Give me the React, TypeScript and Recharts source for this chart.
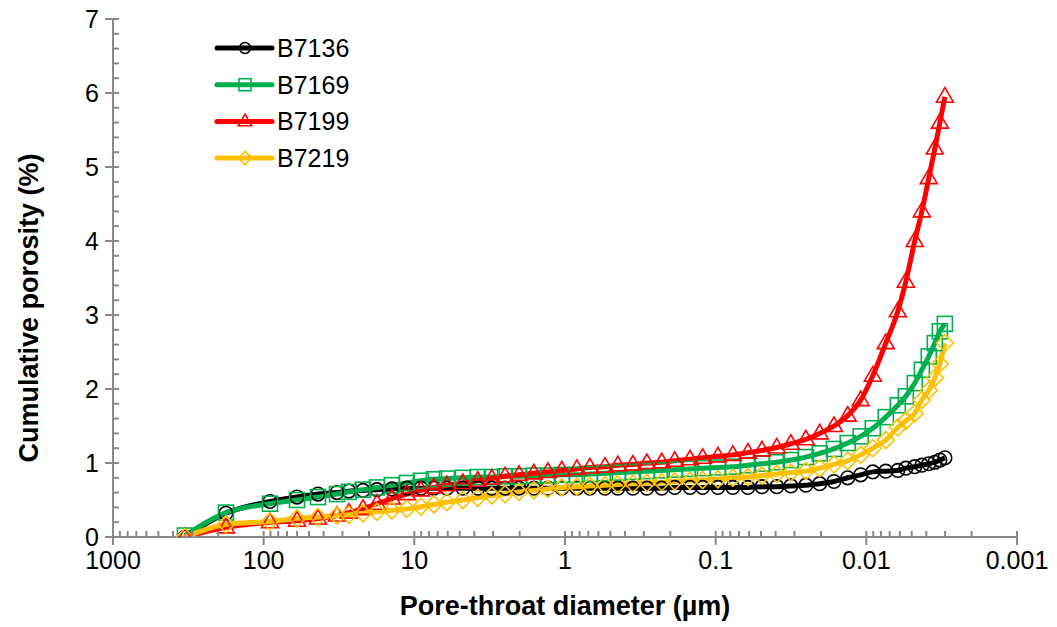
import React from 'react';
import { LineChart, Line, XAxis, YAxis, Legend } from 'recharts';

const diameters = [333, 178, 90.8, 60.1, 43.6, 32.6, 27.2, 21.9, 17.7, 14.1, 11.2, 9.04, 7.41, 6.08, 4.76, 3.79, 3.06, 2.5, 2.02, 1.61, 1.3, 1.05, 0.834, 0.684, 0.543, 0.446, 0.354, 0.286, 0.228, 0.187, 0.148, 0.122, 0.0966, 0.0769, 0.0611, 0.0493, 0.0393, 0.0317, 0.0252, 0.0204, 0.0164, 0.0133, 0.0109, 0.00906, 0.00743, 0.00618, 0.00547, 0.00477, 0.00428, 0.00385, 0.00351, 0.00325, 0.00301];

const b7136 = [0, 0.32, 0.48, 0.54, 0.58, 0.6, 0.62, 0.63, 0.64, 0.65, 0.66, 0.66, 0.66, 0.66, 0.66, 0.66, 0.66, 0.66, 0.66, 0.66, 0.66, 0.66, 0.66, 0.66, 0.66, 0.66, 0.66, 0.66, 0.66, 0.67, 0.67, 0.67, 0.67, 0.67, 0.67, 0.68, 0.68, 0.69, 0.7, 0.72, 0.75, 0.8, 0.84, 0.88, 0.89, 0.9, 0.93, 0.95, 0.97, 0.99, 1.01, 1.04, 1.07];
const b7169 = [0.02, 0.33, 0.45, 0.5, 0.54, 0.58, 0.61, 0.64, 0.67, 0.7, 0.73, 0.76, 0.78, 0.79, 0.8, 0.81, 0.81, 0.82, 0.82, 0.83, 0.83, 0.84, 0.84, 0.85, 0.86, 0.87, 0.88, 0.89, 0.9, 0.91, 0.92, 0.93, 0.94, 0.95, 0.97, 0.99, 1.01, 1.04, 1.08, 1.13, 1.19, 1.27, 1.36, 1.47, 1.62, 1.78, 1.9, 2.08, 2.26, 2.44, 2.62, 2.78, 2.88];
const b7199 = [0, 0.13, 0.2, 0.22, 0.25, 0.29, 0.33, 0.38, 0.45, 0.52, 0.58, 0.63, 0.67, 0.7, 0.73, 0.76, 0.79, 0.82, 0.84, 0.86, 0.88, 0.9, 0.92, 0.94, 0.95, 0.97, 0.98, 1.0, 1.01, 1.03, 1.05, 1.07, 1.09, 1.11, 1.14, 1.17, 1.21, 1.26, 1.32, 1.4, 1.5, 1.64, 1.85, 2.18, 2.62, 3.05, 3.45, 4.0, 4.4, 4.85, 5.25, 5.6, 5.95];
const b7219 = [0, 0.17, 0.21, 0.25, 0.27, 0.29, 0.3, 0.32, 0.34, 0.36, 0.38, 0.41, 0.44, 0.47, 0.5, 0.53, 0.56, 0.58, 0.61, 0.63, 0.65, 0.67, 0.68, 0.69, 0.7, 0.71, 0.72, 0.73, 0.74, 0.75, 0.76, 0.77, 0.78, 0.8, 0.81, 0.83, 0.85, 0.87, 0.89, 0.93, 0.98, 1.03, 1.11, 1.2, 1.31, 1.48, 1.57, 1.67, 1.85, 1.98, 2.15, 2.34, 2.62];

const xMajorTicks = [1000, 100, 10, 1, 0.1, 0.01, 0.001];
const xMajorLabels = ['1000', '100', '10', '1', '0.1', '0.01', '0.001'];
const xMinorMultipliers = [2, 3, 4, 5, 6, 7, 8, 9];
const yMajorTicks = [0, 1, 2, 3, 4, 5, 6, 7];
const yMinorSteps = [0.2, 0.4, 0.6, 0.8];

const seriesNames = ['B7136', 'B7169', 'B7199', 'B7219'];
const seriesKeys = ['b7136', 'b7169', 'b7199', 'b7219'];
const seriesColors = ['#000000', '#00B050', '#FF0000', '#FFC000'];
const seriesShapes = ['circle', 'square', 'triangle', 'diamond'];
const seriesValues = [b7136, b7169, b7199, b7219];

const data = diameters.map((d, i) => {
  const row: any = { d };
  seriesKeys.forEach((k, j) => {
    row[k] = seriesValues[j][i];
  });
  return row;
});

const xAllTicks: number[] = [...xMajorTicks];
xMajorTicks.slice(1).forEach((t) => {
  xMinorMultipliers.forEach((m) => xAllTicks.push(+(t * m).toPrecision(6)));
});
xAllTicks.sort((a, b) => a - b);

const yAllTicks: number[] = [...yMajorTicks];
yMajorTicks.slice(0, -1).forEach((t) => {
  yMinorSteps.forEach((s) => yAllTicks.push(+(t + s).toFixed(2)));
});
yAllTicks.sort((a, b) => a - b);

const FONT = '"Liberation Sans", Arial, sans-serif';
const AXIS_GREY = '#898989';

function Marker({ shape, cx, cy, color, size = 1 }: any) {
  const sw = 1.6;
  if (shape === 'circle') {
    return <circle cx={cx} cy={cy} r={6.8 * size} fill="none" stroke={color} strokeWidth={sw} />;
  }
  if (shape === 'square') {
    const h = 7.5 * size;
    return <rect x={cx - h} y={cy - h} width={2 * h} height={2 * h} fill="none" stroke={color} strokeWidth={sw} />;
  }
  if (shape === 'triangle') {
    const s = size;
    const pts = `${cx},${cy - 9 * s} ${cx - 8.5 * s},${cy + 5.5 * s} ${cx + 8.5 * s},${cy + 5.5 * s}`;
    return <polygon points={pts} fill="none" stroke={color} strokeWidth={sw} />;
  }
  const r = 8.5 * size;
  const pts = `${cx},${cy - r} ${cx + r},${cy} ${cx},${cy + r} ${cx - r},${cy}`;
  return <polygon points={pts} fill="none" stroke={color} strokeWidth={sw} />;
}

const makeDot = (shape: string, color: string) => (props: any) => {
  const { cx, cy, index } = props;
  if (cx == null || cy == null) return <g key={`e-${shape}-${index}`} />;
  return (
    <g key={`${shape}-${index}`}>
      <Marker shape={shape} cx={cx} cy={cy} color={color} />
    </g>
  );
};

function XTick(props: any) {
  const { x, y, payload } = props;
  const v = payload.value;
  const idx = xMajorTicks.findIndex((t) => Math.abs(Math.log10(t) - Math.log10(v)) < 1e-6);
  if (idx >= 0) {
    return (
      <g>
        <line x1={x} x2={x} y1={y - 6} y2={y + 8} stroke={AXIS_GREY} strokeWidth={2} />
        <text x={x} y={y + 32} textAnchor="middle" fontFamily={FONT} fontSize={25} fill="#000">
          {xMajorLabels[idx]}
        </text>
      </g>
    );
  }
  return <line x1={x} x2={x} y1={y - 6} y2={y} stroke={AXIS_GREY} strokeWidth={2} />;
}

function YTick(props: any) {
  const { x, y, payload } = props;
  const v = payload.value;
  if (Math.abs(v - Math.round(v)) < 1e-6) {
    return (
      <g>
        <line x1={x - 8} x2={x + 6} y1={y} y2={y} stroke={AXIS_GREY} strokeWidth={2} />
        <text x={x - 14} y={y + 9} textAnchor="end" fontFamily={FONT} fontSize={25} fill="#000">
          {String(Math.round(v))}
        </text>
      </g>
    );
  }
  return <line x1={x} x2={x + 6} y1={y} y2={y} stroke={AXIS_GREY} strokeWidth={2} />;
}

function XTitle(props: any) {
  const { viewBox } = props;
  const cx = viewBox.x + viewBox.width / 2;
  return (
    <text x={cx} y={viewBox.y + 78} textAnchor="middle" fontFamily={FONT} fontSize={27} fontWeight="bold" fill="#000">
      Pore-throat diameter (µm)
    </text>
  );
}

function YTitle(props: any) {
  const { viewBox } = props;
  const cy = viewBox.y + viewBox.height / 2 + 30;
  const cx = 38;
  return (
    <text x={cx} y={cy} transform={`rotate(-90 ${cx} ${cy})`} textAnchor="middle" fontFamily={FONT} fontSize={27} fontWeight="bold" fill="#000">
      Cumulative porosity (%)
    </text>
  );
}

function LegendContent() {
  const rowH = 36.7;
  return (
    <svg width={200} height={160} style={{ display: 'block', overflow: 'visible' }}>
      {seriesNames.map((name, i) => {
        const cy = 18 + i * rowH;
        return (
          <g key={name}>
            <line x1={7} x2={62} y1={cy} y2={cy} stroke={seriesColors[i]} strokeWidth={5} strokeLinecap="round" />
            <Marker shape={seriesShapes[i]} cx={35} cy={cy} color={seriesColors[i]} size={0.8} />
            <text x={67} y={cy + 9} fontFamily={FONT} fontSize={25} fill="#000">
              {name}
            </text>
          </g>
        );
      })}
    </svg>
  );
}

export default function App() {
  return (
    <div style={{ position: 'absolute', left: 0, top: 0, width: 1057, height: 627, background: '#fff' }}>
      <LineChart width={1057} height={627} data={data} margin={{ top: 19, right: 40, bottom: 0, left: 0 }}>
        <XAxis
          dataKey="d"
          type="number"
          scale="log"
          domain={[0.001, 1000]}
          reversed
          allowDataOverflow
          ticks={xAllTicks}
          interval={0}
          tickSize={0}
          tickMargin={0}
          tickLine={false}
          tick={<XTick />}
          axisLine={{ stroke: AXIS_GREY, strokeWidth: 2 }}
          height={90}
          label={<XTitle />}
        />
        <XAxis
          xAxisId="top"
          orientation="top"
          dataKey="d"
          type="number"
          scale="log"
          domain={[0.001, 1000]}
          reversed
          allowDataOverflow
          height={0}
          tick={false}
          tickLine={false}
          axisLine={{ stroke: '#000', strokeWidth: 1.5 }}
        />
        <YAxis
          type="number"
          domain={[0, 7]}
          ticks={yAllTicks}
          interval={0}
          tickSize={0}
          tickMargin={0}
          tickLine={false}
          tick={<YTick />}
          axisLine={{ stroke: AXIS_GREY, strokeWidth: 2 }}
          width={113}
          allowDataOverflow
          label={<YTitle />}
        />
        <YAxis
          yAxisId="right"
          orientation="right"
          type="number"
          domain={[0, 7]}
          width={0}
          tick={false}
          tickLine={false}
          axisLine={{ stroke: '#000', strokeWidth: 1.5 }}
        />
        {seriesKeys.map((k, i) => (
          <Line
            key={k}
            dataKey={k}
            name={seriesNames[i]}
            type="monotone"
            stroke={seriesColors[i]}
            strokeWidth={5}
            dot={makeDot(seriesShapes[i], seriesColors[i])}
            activeDot={false}
            isAnimationActive={false}
          />
        ))}
        <Legend
          layout="vertical"
          align="center"
          verticalAlign="middle"
          content={<LegendContent />}
          wrapperStyle={{ position: 'absolute', left: 210, top: 30, width: 200, height: 160 }}
        />
      </LineChart>
    </div>
  );
}
